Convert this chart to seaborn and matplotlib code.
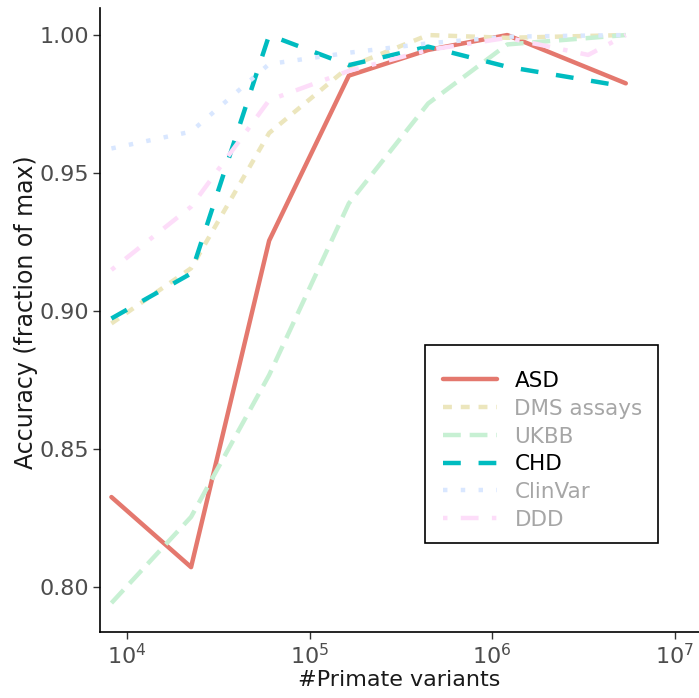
import numpy as np
import pandas as pd
import matplotlib
matplotlib.use("Agg")
import matplotlib.pyplot as plt
from matplotlib.patches import Rectangle
import seaborn as sns
from matplotlib.colors import to_rgb

# ---- data ----
x_main = [8.2e3, 2.24e4, 6.0e4, 1.64e5, 4.46e5, 1.21e6, 5.4e6]
asd = [0.8326, 0.8072, 0.9255, 0.9853, 0.9946, 1.000, 0.9825]
dms = [0.8955, 0.9155, 0.9645, 0.9885, 1.000, 0.9990, 1.000]
ukbb = [0.7942, 0.8254, 0.8768, 0.9390, 0.9752, 0.9966, 1.000]
chd = [0.8973, 0.9136, 1.000, 0.9891, 0.9958, 0.9885, 0.9813]
clinvar = [0.9589, 0.9650, 0.9895, 0.9936, 0.9970, 0.9994, 1.000]
x_ddd = [8.2e3, 2.24e4, 6.0e4, 1.64e5, 4.46e5, 1.21e6, 3.36e6, 5.4e6]
ddd = [0.9149, 0.9378, 0.9764, 0.9870, 0.9946, 0.9990, 0.9928, 1.000]

series = ["ASD", "DMS assays", "UKBB", "CHD", "ClinVar", "DDD"]
base_colors = ["#E4786E", "#B79F00", "#00BA38", "#00BCC0", "#619CFF", "#F564E3"]
alphas = [1.0, 0.26, 0.22, 1.0, 0.24, 0.22]
dash_styles = ["", (2, 2), (4, 2), (4, 4), (1, 3), (1, 3, 4, 3)]

rows = []
for name, xs, ys in [("ASD", x_main, asd), ("DMS assays", x_main, dms),
                     ("UKBB", x_main, ukbb), ("CHD", x_main, chd),
                     ("ClinVar", x_main, clinvar), ("DDD", x_ddd, ddd)]:
    for xv, yv in zip(xs, ys):
        rows.append({"x": xv, "y": yv, "series": name})
df = pd.DataFrame(rows)

def blend(c, a):
    r = np.array(to_rgb(c))
    return tuple(a * r + (1 - a) * 1.0)

palette = {s: blend(c, a) for s, c, a in zip(series, base_colors, alphas)}
dashes = {s: d for s, d in zip(series, dash_styles)}

sns.set_style("white")
plt.rcParams["font.family"] = ["DejaVu Sans"]
plt.rcParams["mathtext.fontset"] = "dejavusans"

W, H = 699, 698
fig = plt.figure(figsize=(W / 100, H / 100), dpi=100)
ax = fig.add_axes([100 / W, (H - 632) / H, 599 / W, (632 - 8) / H])

sns.lineplot(data=df, x="x", y="y", hue="series", style="series",
             hue_order=series, style_order=series, palette=palette,
             dashes=dashes, linewidth=3.2, ax=ax, sort=True, estimator=None)

ax.set_xscale("log")
ax.set_xlim(7.1e3, 1.36e7)
ax.set_ylim(0.7837, 1.0098)
ax.set_yticks([0.80, 0.85, 0.90, 0.95, 1.00])
ax.set_yticklabels(["0.80", "0.85", "0.90", "0.95", "1.00"])
ax.set_xticks([1e4, 1e5, 1e6, 1e7])
ax.xaxis.set_minor_locator(matplotlib.ticker.NullLocator())

for side in ["top", "right"]:
    ax.spines[side].set_visible(False)
for side in ["left", "bottom"]:
    ax.spines[side].set_color("black")
    ax.spines[side].set_linewidth(1.2)

ax.tick_params(axis="both", which="major", direction="out", length=5,
               width=1.0, color="#333333", labelsize=16,
               labelcolor="#4D4D4D", bottom=True, left=True, pad=3)

ax.set_xlabel("#Primate variants", fontsize=16, color="#1A1A1A", labelpad=1)
ax.set_ylabel("Accuracy (fraction of max)", fontsize=17, color="#1A1A1A")
ax.yaxis.set_label_coords(-0.104, 0.512)

handles, labels = ax.get_legend_handles_labels()
leg = ax.legend(handles, labels, loc="upper left",
                bbox_to_anchor=(443 / W, 1 - 371 / H),
                bbox_transform=fig.transFigure,
                frameon=False, prop={"size": 15.5}, handlelength=2.5,
                handletextpad=0.82, labelspacing=0.36, borderpad=0,
                borderaxespad=0)
for t, s in zip(leg.get_texts(), labels):
    t.set_color("black" if s in ("ASD", "CHD") else "#A6A6A6")
for lh in leg.get_lines():
    lh.set_linewidth(3.2)

fig.patches.append(Rectangle((425 / W, 1 - 543 / H), (658 - 425) / W, (543 - 345) / H,
                             transform=fig.transFigure, fill=False,
                             edgecolor="black", linewidth=1.2))

fig.savefig("out.png", dpi=100)
